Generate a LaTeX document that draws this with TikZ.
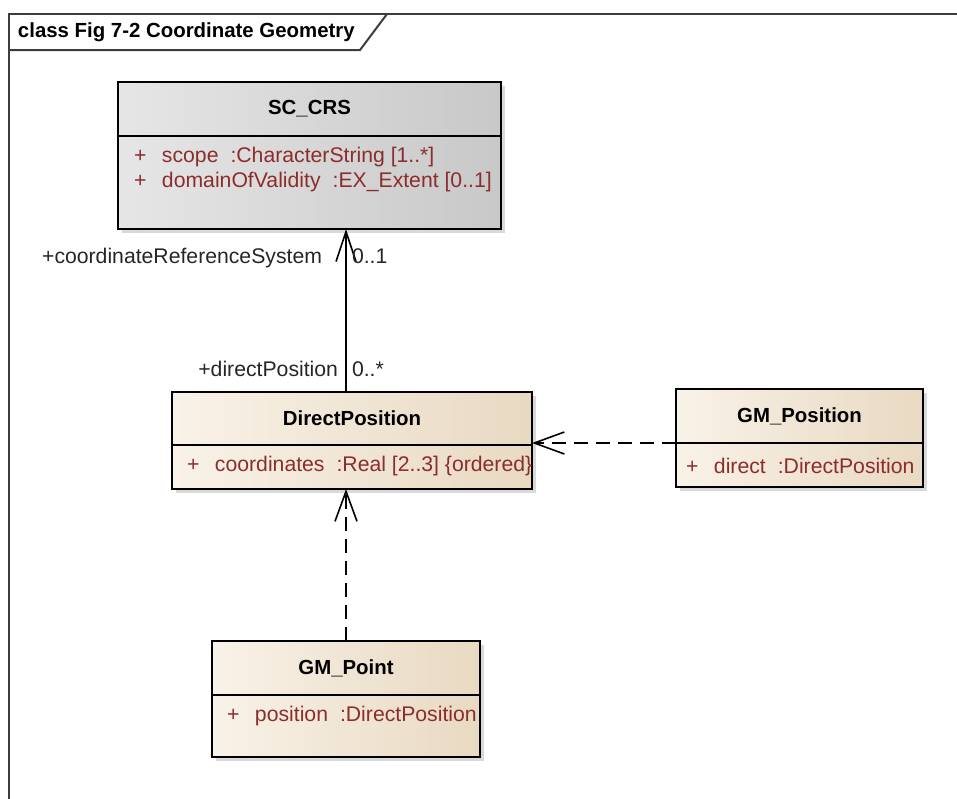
\documentclass[tikz,border=0pt]{standalone}
\usepackage{fontspec}
\setmainfont{Liberation Sans}
\usetikzlibrary{positioning,arrows.meta,shadows}

\definecolor{attrred}{RGB}{140,45,45}
\definecolor{frameline}{RGB}{60,60,60}
\definecolor{crsL}{RGB}{230,230,230}
\definecolor{crsR}{RGB}{200,200,200}
\definecolor{tanL}{RGB}{249,242,232}
\definecolor{tanR}{RGB}{232,217,194}

\newcommand\attrplus{\makebox[14pt][l]{+}}

\begin{document}
\begin{tikzpicture}[x=0.5pt, y=-0.5pt,
  every node/.style = {inner sep=0pt, outer sep=0pt},
  classhead/.style = {draw, line width=0.8pt, anchor=north west,
    font=\fontsize{10.2}{12}\selectfont\bfseries,
    drop shadow={shadow xshift=2pt, shadow yshift=-2pt, opacity=0.3}},
  classbody/.style = {draw, line width=0.8pt,
    drop shadow={shadow xshift=2pt, shadow yshift=-2pt, opacity=0.3}},
  crsfill/.style = {left color=crsL, right color=crsR},
  tanfill/.style = {left color=tanL, right color=tanR},
  attr/.style = {anchor=west, text=attrred,
    font=\fontsize{10.6}{12}\selectfont},
  role/.style = {text=black!85, font=\fontsize{10.6}{12}\selectfont,
    text height=8pt, text depth=2pt},
  assoc/.style = {line width=0.8pt, -{Straight Barb[length=15pt,width=10pt]}},
  dep/.style = {line width=0.8pt, dash pattern=on 7pt off 4pt,
    -{Straight Barb[length=15pt,width=11pt]}}]

  \useasboundingbox (0,0) rectangle (957,798);

  % frame
  \draw[frameline, line width=1pt] (9,800) -- (9,14) -- (960,14);
  \draw[frameline, line width=1pt] (9,50) -- (360,50) -- (387,14);
  \node[anchor=west, font=\fontsize{10.2}{12}\selectfont\bfseries]
    (frameTitle) at (18,32) {class Fig 7-2 Coordinate Geometry};

  % SC_CRS
  \node[classhead, crsfill, minimum width=191.5pt, minimum height=27pt]
    (crsHead) at (118,82) {SC\_CRS};
  \node[classbody, crsfill, minimum width=191.5pt, minimum height=46.5pt,
    below=0pt of crsHead] (crsBody) {};
  \node[attr] (crsScope) at (134,157)
    {\attrplus scope\hspace{6pt}:CharacterString [1..*]};
  \node[attr] (crsDomain) at (134,182)
    {\attrplus domainOfValidity\hspace{6pt}:EX\_Extent [0..1]};

  % DirectPosition
  \node[classhead, tanfill, minimum width=180pt, minimum height=26.5pt]
    (dpHead) at (172,392) {DirectPosition};
  \node[classbody, tanfill, minimum width=180pt, minimum height=22pt,
    below=0pt of dpHead] (dpBody) {};
  \node[attr] (dpCoords) at (187,466)
    {\attrplus coordinates\hspace{6pt}:Real [2..3] \{ordered\}};

  % GM_Position
  \node[classhead, tanfill, minimum width=123.5pt, minimum height=27pt]
    (posHead) at (676,389) {GM\_Position};
  \node[classbody, tanfill, minimum width=123.5pt, minimum height=22pt,
    below=0pt of posHead] (posBody) {};
  \node[attr] (posDirect) at (686,466)
    {\attrplus direct\hspace{6pt}:DirectPosition};

  % GM_Point
  \node[classhead, tanfill, minimum width=134pt, minimum height=27pt]
    (ptHead) at (212,641) {GM\_Point};
  \node[classbody, tanfill, minimum width=134pt, minimum height=31pt,
    below=0pt of ptHead] (ptBody) {};
  \node[attr] (ptPosition) at (227,716)
    {\attrplus position\hspace{6pt}:DirectPosition};

  % association
  \coordinate (assocBot) at (ptHead.north |- dpHead.north);
  \coordinate (assocTop) at (ptHead.north |- crsBody.south);
  \draw[assoc] (assocBot) -- (assocTop);
  \node[role, below left=9pt and 12pt of assocTop] (crsRole)
    {+coordinateReferenceSystem};
  \node[role, below right=9pt and 3pt of assocTop] (crsMult) {0..1};
  \node[role, above left=6pt and 4pt of assocBot] (dpRole)
    {+directPosition};
  \node[role, above right=6pt and 3pt of assocBot] (dpMult) {0..*};

  % dependencies
  \draw[dep] (posHead.south west) -- (posHead.south west -| dpHead.east);
  \draw[dep] (ptHead.north) -- (ptHead.north |- dpBody.south);
\end{tikzpicture}
\end{document}
